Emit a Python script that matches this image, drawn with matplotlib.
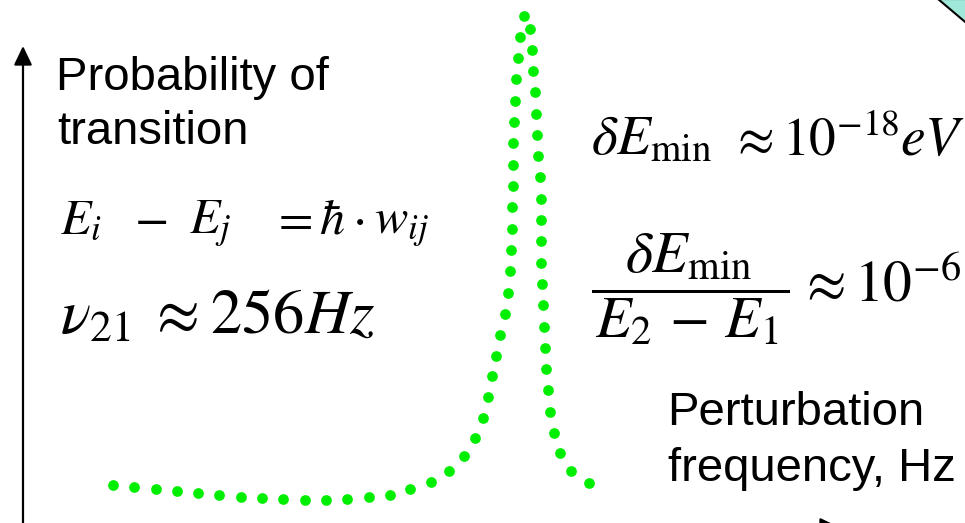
import matplotlib
matplotlib.use("Agg")
import matplotlib.pyplot as plt
from matplotlib.patches import Polygon

plt.rcParams['mathtext.fontset'] = 'stix'
plt.rcParams['font.family'] = ['Liberation Sans', 'DejaVu Sans']

W, H = 965, 523

# Dotted resonance curve: perturbation frequency (x) vs probability of transition (y)
freq = [113.3, 134.3, 155.7, 177.0, 198.3, 219.3, 240.7, 262.0, 283.3, 304.7,
        326.0, 347.3, 368.7, 389.7, 410.3, 430.5, 448.7, 463.5, 475.0, 482.7,
        488.3, 492.3, 496.3, 500.3, 505.0, 508.0, 509.7, 511.0, 511.7, 512.3,
        512.7, 513.0, 513.0, 513.7, 514.7, 516.0, 518.0, 520.3, 523.7, 529.7,
        531.7, 533.3, 534.7, 536.0, 537.3, 538.3, 539.7, 540.7, 541.0, 541.0,
        541.3, 542.3, 543.0, 544.0, 545.0, 546.3, 548.0, 550.3, 553.7, 560.0,
        571.0, 588.7]
prob = [38.3, 36.0, 33.7, 31.7, 29.7, 27.7, 26.0, 24.7, 23.7, 23.3,
        23.3, 24.3, 26.0, 28.3, 33.7, 41.0, 52.3, 67.0, 85.0, 105.0,
        125.7, 146.7, 167.3, 188.3, 209.3, 230.3, 251.7, 273.0, 294.3, 315.7,
        337.0, 358.3, 379.7, 401.0, 422.3, 443.7, 464.7, 486.0, 507.0, 494.3,
        473.3, 452.3, 431.0, 409.3, 388.3, 367.0, 345.7, 324.3, 303.0, 282.0,
        260.3, 239.3, 218.0, 196.3, 175.3, 154.0, 132.7, 111.3, 90.3, 70.3,
        52.0, 40.3]

# Axis arrows (origin below the visible area)
origin = (23, -4)
y_arrow_tip = (23, 477)
x_arrow_tip = (839, -4)

# Corner decoration (teal shape, top-right)
corner_x = [938, 967, 967]
corner_y = [524, 499.5, 524]

# Pieces of the energy relation and their left edges
eq1_parts = [r'$E_i$', r'$-$', r'$E_{j}$', r'$=$', r'$\hbar$', r'$\cdot$', r'$w_{ij}$']
eq1_left = [60, 134, 189, 271, 319, 352, 374]

# Pieces of the minimum energy resolution line, left edges and sizes
eq2_parts = [r'$\delta E_{\mathrm{min}}$', r'$\approx 10^{-18}$', r'$eV$']
eq2_left = [591, 730, 900]
eq2_size = [40, 38.5, 40]

fig = plt.figure(figsize=(W / 100, H / 100), dpi=100)
ax = fig.add_axes([0, 0, 1, 1])
ax.set_xlim(0, W)
ax.set_ylim(0, H)
ax.axis('off')

ax.add_patch(Polygon(list(zip(corner_x, corner_y)), closed=True,
                     facecolor='#a0e8d8', edgecolor='black', lw=1.5, clip_on=False))

arrow_kw = dict(arrowstyle='-|>,head_length=1.15,head_width=0.55',
                mutation_scale=10, lw=1.6, color='black', shrinkA=0, shrinkB=0)
ax.annotate('', xy=y_arrow_tip, xytext=origin, arrowprops=arrow_kw,
            annotation_clip=False)
ax.annotate('', xy=x_arrow_tip, xytext=origin, arrowprops=arrow_kw,
            annotation_clip=False)

ax.plot(freq, prob, linestyle='none', marker='o', markersize=7.7,
        markeredgewidth=0, color='#00ee00', clip_on=False)

def T(x, y, s, size, **kw):
    ax.text(x, H - y, s, fontsize=size, ha='left', va='baseline', **kw)

T(56, 89.5, 'Probability of', 34)
T(57, 144.5, 'transition', 34)
T(667, 425, 'Perturbation', 34)
T(668, 480.7, 'frequency, Hz', 34)

for s, x in zip(eq1_parts, eq1_left):
    T(x, 233, s, 36)

T(60, 334, r'$\nu_{21}\hspace{0.25}\approx\hspace{0.05}256Hz$', 45)

for s, x, fs in zip(eq2_parts, eq2_left, eq2_size):
    T(x, 155, s, fs)

T(591, 302, r'$\dfrac{\delta E_{\mathrm{min}}}{\hspace{0.1}E_2\,-\,E_1\hspace{0.1}}$', 42)
T(798, 302, r'$\approx 10^{-6}$', 41.5)

fig.savefig('out.png', dpi=100)
